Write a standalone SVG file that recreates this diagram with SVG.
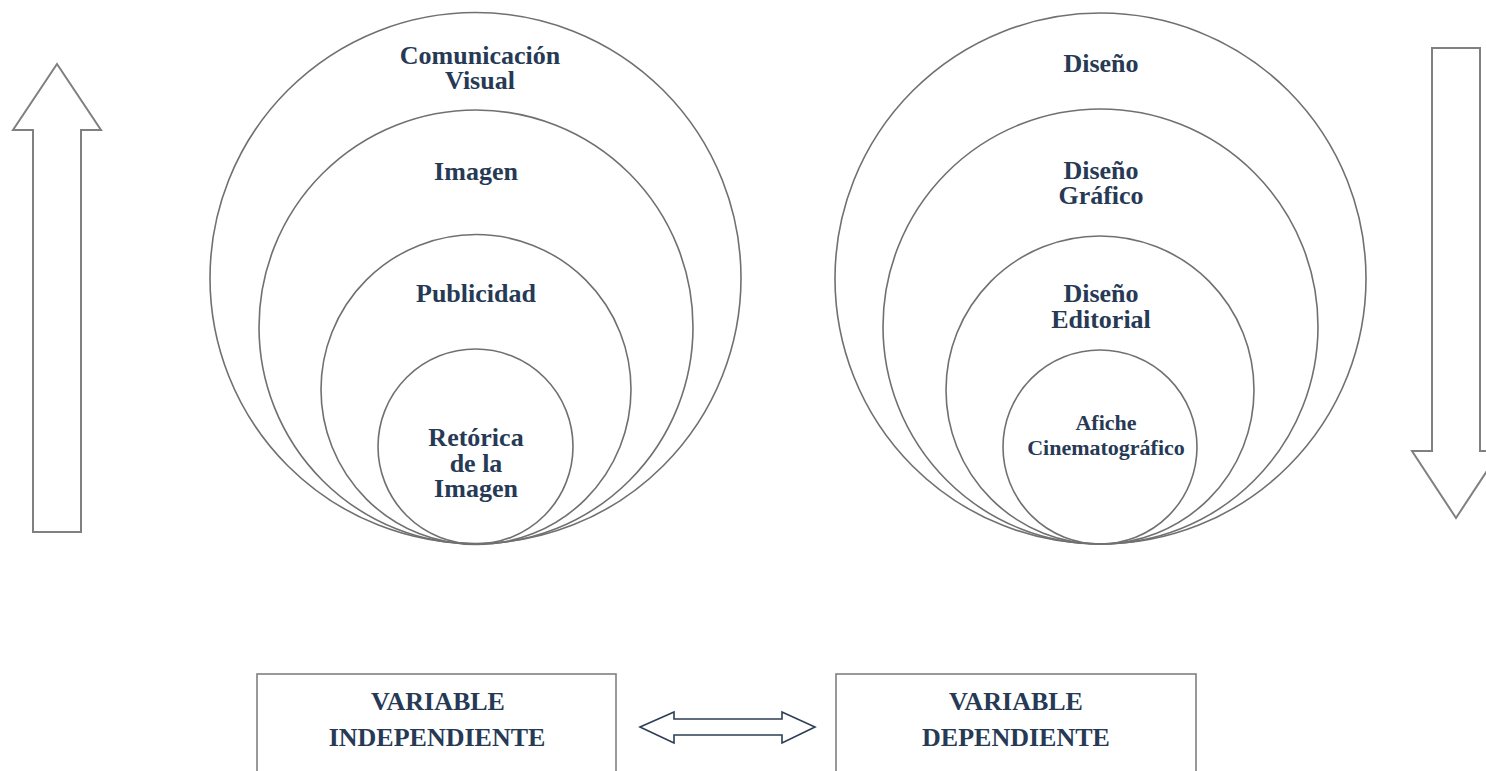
<svg xmlns="http://www.w3.org/2000/svg" width="1486" height="771" viewBox="0 0 1486 771">
<style>
.c{fill:none;stroke:#707070;stroke-width:1.6}
.t{font-family:"Liberation Serif","Times New Roman",serif;font-weight:bold;fill:#273a55;text-anchor:middle;font-size:26px}
.s{font-size:22px}
.bigarrow{fill:#fff;stroke:#808080;stroke-width:2}
.box{fill:#fff;stroke:#808080;stroke-width:1.6}
.dbl{fill:#fff;stroke:#2c3e56;stroke-width:1.6}
</style>
<rect width="1486" height="771" fill="#fff"/>
<g id="arrow-up"><polygon class="bigarrow" points="57,64 101,130 81,130 81,532 33,532 33,130 13,130"/></g>
<g id="arrow-down"><polygon class="bigarrow" points="1456,518 1500,451 1480,451 1480,48 1432,48 1432,451 1412,451"/></g>
<g id="left-circles">
<g id="comunicacion-visual"><circle class="c" cx="475.5" cy="278" r="265.5"/><text class="t" x="480" y="64">Comunicación</text><text class="t" x="480" y="89">Visual</text></g>
<g id="imagen"><circle class="c" cx="476" cy="327" r="217"/><text class="t" x="476" y="180">Imagen</text></g>
<g id="publicidad"><circle class="c" cx="476" cy="389.5" r="155"/><text class="t" x="476" y="302">Publicidad</text></g>
<g id="retorica"><circle class="c" cx="475.5" cy="446.5" r="97.5"/><text class="t" x="476" y="446">Retórica</text><text class="t" x="476" y="472">de la</text><text class="t" x="476" y="497">Imagen</text></g>
</g>
<g id="right-circles">
<g id="diseno"><circle class="c" cx="1100.5" cy="278.5" r="265.5"/><text class="t" x="1101" y="72">Diseño</text></g>
<g id="diseno-grafico"><circle class="c" cx="1100.5" cy="326.5" r="217.5"/><text class="t" x="1101" y="179">Diseño</text><text class="t" x="1101" y="204">Gráfico</text></g>
<g id="diseno-editorial"><circle class="c" cx="1100" cy="390" r="154"/><text class="t" x="1101" y="302">Diseño</text><text class="t" x="1101" y="328">Editorial</text></g>
<g id="afiche"><circle class="c" cx="1100" cy="447" r="97"/><text class="t s" x="1106" y="430">Afiche</text><text class="t s" x="1106" y="455">Cinematográfico</text></g>
</g>
<g id="var-independiente"><rect class="box" x="257" y="674" width="359" height="110"/><text class="t" x="438" y="710">VARIABLE</text><text class="t" x="437" y="746">INDEPENDIENTE</text></g>
<g id="var-dependiente"><rect class="box" x="836" y="674" width="360" height="110"/><text class="t" x="1016" y="710">VARIABLE</text><text class="t" x="1016" y="746">DEPENDIENTE</text></g>
<g id="connectors"><polygon class="dbl" points="640,727 674,712 674,719 782,719 782,712 815,727 782,743 782,735 674,735 674,743"/></g>
</svg>
